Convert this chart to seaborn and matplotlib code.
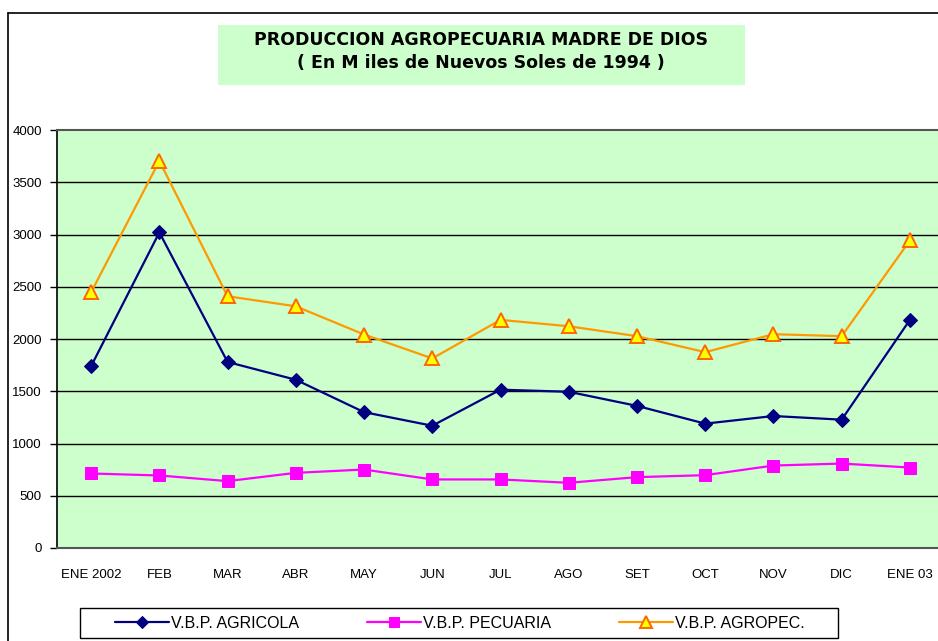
import matplotlib
matplotlib.use("Agg")
import matplotlib.pyplot as plt
from matplotlib.lines import Line2D
from matplotlib.patches import Rectangle
import seaborn as sns
import pandas as pd
import numpy as np

MONTHS = ["ENE 2002", "FEB", "MAR", "ABR", "MAY", "JUN", "JUL",
          "AGO", "SET", "OCT", "NOV", "DIC", "ENE 03"]
AGRICOLA = [1740, 3020, 1780, 1610, 1300, 1170, 1515, 1495, 1360, 1190, 1263, 1228, 2183]
PECUARIA = [713, 694, 640, 719, 751, 656, 656, 624, 678, 697, 789, 808, 770]
AGROPEC = [2447, 3704, 2409, 2313, 2043, 1814, 2183, 2122, 2027, 1874, 2046, 2027, 2943]
Y_TICKS = [0, 500, 1000, 1500, 2000, 2500, 3000, 3500, 4000]

TITLE = "PRODUCCION AGROPECUARIA MADRE DE DIOS"
SUBTITLE = "( En M iles de Nuevos Soles de 1994 )"

W, H = 938, 641
BG = "#CCFFCC"

sns.set_style("white")
plt.rcParams["font.family"] = ["Liberation Sans", "DejaVu Sans"]
plt.rcParams["text.color"] = "black"
plt.rcParams["xtick.color"] = "black"
plt.rcParams["ytick.color"] = "black"

fig = plt.figure(figsize=(W / 100, H / 100), dpi=100)

# plot area in pixels: left 57, right 944 (past the edge), top 130, bottom 548
ax = fig.add_axes([57 / W, (H - 548) / H, (944 - 57) / W, (548 - 130) / H])
ax.set_facecolor(BG)

x = np.arange(len(MONTHS))
series = [
    ("V.B.P. AGRICOLA", AGRICOLA, dict(color="#000080", marker="D", markersize=7.5,
                                       markerfacecolor="#000080", markeredgecolor="#000080")),
    ("V.B.P. PECUARIA", PECUARIA, dict(color="#FF00FF", marker="s", markersize=8.5,
                                       markerfacecolor="#FF00FF", markeredgecolor="#FF00FF")),
    ("V.B.P. AGROPEC.", AGROPEC, dict(color="#FF9900", marker="^", markersize=10,
                                      markerfacecolor="#FFFF00", markeredgecolor="#FF6600",
                                      markeredgewidth=1.4)),
]
for name, vals, kw in series:
    df = pd.DataFrame({"mes": x, "valor": vals})
    sns.lineplot(data=df, x="mes", y="valor", ax=ax, sort=False, linewidth=1.6,
                 label=name, legend=False, **kw)

ax.set_xlim(-0.5, len(MONTHS) - 0.5)
ax.set_ylim(0, 4000)
ax.set_yticks(Y_TICKS)
ax.set_yticklabels([str(v) for v in Y_TICKS], fontsize=9.5)
ax.set_xticks(x)
ax.set_xticklabels(MONTHS, fontsize=9.5)
ax.set_xticks(np.arange(-0.5, len(MONTHS) + 0.5, 1), minor=True)
ax.tick_params(axis="x", which="major", length=0, pad=15)
ax.tick_params(axis="x", which="minor", length=4, width=1, color="#444444", direction="out")
ax.tick_params(axis="y", length=5, width=1, direction="out", pad=6, left=True)
ax.set_xlabel("")
ax.set_ylabel("")
ax.grid(False)
for v in Y_TICKS[1:-1]:
    ax.axhline(v, color="black", linewidth=1, zorder=1)

ax.spines["left"].set_color("black")
ax.spines["left"].set_linewidth(1.2)
ax.spines["bottom"].set_color("#555555")
ax.spines["bottom"].set_linewidth(1.5)
ax.spines["top"].set_color("#555555")
ax.spines["top"].set_linewidth(1.5)
ax.spines["right"].set_visible(False)

# outer chart frame (cut off at right and bottom)
fig.add_artist(Line2D([8 / W, 8 / W], [0, (H - 13) / H], color="black", linewidth=1.2))
fig.add_artist(Line2D([8 / W, 1], [(H - 13) / H, (H - 13) / H], color="black", linewidth=1.2))

# title box
fig.add_artist(Rectangle((218 / W, (H - 85) / H), (745 - 218) / W, 60 / H,
                         facecolor=BG, edgecolor="none"))
fig.text(481 / W, (H - 40) / H, TITLE, ha="center", va="center", fontsize=12.5,
         fontweight="bold", family=["DejaVu Sans"])
fig.text(481 / W, (H - 63) / H, SUBTITLE, ha="center", va="center", fontsize=12.5,
         fontweight="bold", family=["DejaVu Sans"])

# legend box drawn separately, legend itself frameless
fig.add_artist(Rectangle((80 / W, (H - 638) / H), (838 - 80) / W, 30 / H,
                         facecolor="white", edgecolor="black", linewidth=1.0))
handles, labels = ax.get_legend_handles_labels()
leg = fig.legend(handles, labels, loc="center left", bbox_to_anchor=(104 / W, (H - 623) / H),
                 ncol=3, frameon=False, fontsize=11.5, handlelength=3.4,
                 columnspacing=4.25, borderpad=0.2, handletextpad=0.1, markerscale=0.85)

fig.savefig("out.png", dpi=100)
